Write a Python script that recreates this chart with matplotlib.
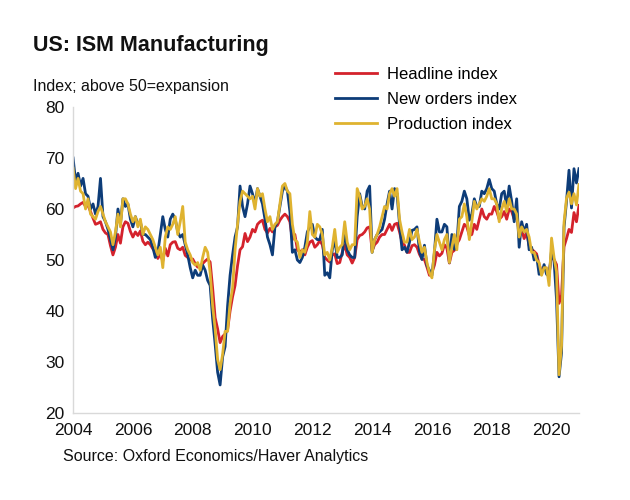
import numpy as np
import matplotlib
matplotlib.use("Agg")
import matplotlib.pyplot as plt

plt.rcParams['font.family'] = ['Liberation Sans', 'DejaVu Sans']

# monthly readings, Jan 2004 .. Dec 2020
headline = [
    60.2, 60.5, 60.6, 61.0, 61.3, 60.5, 60.7, 59.5, 58.2, 57.0, 57.2, 57.5,
    56.0, 55.3, 55.0, 52.8, 51.0, 52.5, 55.0, 53.3, 56.5, 57.5, 57.2, 55.6,
    54.5, 55.5, 54.8, 55.7, 53.7, 53.0, 53.5, 53.0, 52.2, 51.5, 50.3, 51.2,
    49.8, 52.3, 50.8, 53.0, 53.5, 53.6, 52.3, 52.0, 52.5, 50.9, 50.5, 50.0,
    50.2, 49.3, 48.6, 48.8, 49.3, 49.8, 50.2, 49.6, 44.5, 38.7, 36.5, 33.8,
    35.0, 35.5, 36.3, 40.0, 42.8, 45.0, 48.9, 52.0, 52.6, 55.2, 53.6, 54.5,
    56.0, 55.5, 57.0, 57.5, 57.8, 56.0, 55.3, 56.2, 55.5, 56.5, 56.8, 57.8,
    58.5, 59.0, 58.5, 57.5, 54.0, 55.0, 52.0, 51.5, 52.0, 51.0, 52.5, 53.5,
    53.8, 52.5, 53.0, 53.8, 53.0, 50.5, 50.0, 49.6, 51.0, 51.2, 49.3, 49.5,
    51.5, 53.0, 51.0, 50.5, 49.4, 50.5, 54.0, 54.8, 55.0, 55.5, 56.3, 56.5,
    51.8, 53.0, 53.5, 54.5, 55.0, 55.0, 56.0, 57.0, 55.8, 57.0, 57.2, 55.5,
    53.5, 52.9, 51.5, 51.5, 52.8, 53.0, 52.5, 51.1, 50.2, 50.1, 48.6, 47.0,
    47.5, 49.0, 51.5, 50.8, 51.3, 53.0, 52.3, 49.4, 51.5, 51.9, 53.2, 54.0,
    55.5, 57.0, 56.5, 54.8, 55.0, 57.0, 56.0, 58.0, 60.0, 58.5, 58.0, 59.0,
    59.0, 60.5, 59.5, 58.0, 58.5, 59.5, 58.0, 60.0, 59.5, 58.0, 58.8, 55.5,
    56.0, 54.2, 55.3, 52.8, 52.1, 51.7, 51.2, 49.1, 47.8, 48.3, 48.1, 47.2,
    50.9, 50.1, 49.1, 41.5, 43.1, 52.6, 54.2, 56.0, 55.4, 59.3, 57.5, 60.7,
]

new_orders = [
    70.0, 65.5, 67.0, 64.5, 66.0, 63.0, 62.5, 60.0, 61.0, 59.0, 60.5, 66.0,
    58.5, 57.5, 56.0, 54.0, 52.0, 54.5, 60.0, 57.0, 62.0, 60.5, 61.0, 58.0,
    56.5, 58.5, 57.0, 57.5, 55.0, 55.0, 54.5, 54.0, 52.5, 50.5, 51.5, 55.0,
    58.5, 56.0, 54.5, 58.0, 59.0, 58.0, 55.5, 54.5, 55.0, 53.0, 51.0, 48.5,
    46.5, 48.0, 47.0, 47.0, 49.0, 48.0, 46.0, 45.0, 38.5, 33.5, 28.0, 25.5,
    31.0, 33.0, 41.0, 47.0, 51.0, 54.5, 56.5, 64.5, 60.5, 58.5, 61.0, 64.5,
    63.0, 61.0, 64.0, 62.5, 61.0, 58.0, 54.5, 53.0, 51.0, 56.5, 57.5, 60.5,
    63.5, 64.5, 63.5, 59.5, 51.5, 52.0, 50.0, 49.5, 50.5, 52.5, 55.5, 56.5,
    57.0, 54.5, 54.0, 54.0, 56.0, 47.0, 47.5, 46.5, 52.0, 54.0, 50.5, 50.5,
    51.0, 56.0, 52.0, 51.0, 50.5, 50.5, 58.5, 63.0, 60.5, 60.0, 63.5, 64.5,
    51.5, 54.0, 55.0, 55.5, 56.0, 58.0, 61.0, 63.5, 60.0, 64.0, 63.0, 57.0,
    52.0, 52.5, 51.5, 53.5, 55.8, 56.0, 56.5, 51.7, 50.1, 52.9, 48.9, 48.0,
    47.0, 51.5, 58.0, 55.5, 55.5, 57.0, 56.5, 49.5, 55.0, 52.1, 53.0, 60.5,
    61.5, 63.5, 62.0, 57.8, 59.0, 62.0, 60.5, 60.5, 63.5, 63.0, 64.0, 65.8,
    64.0, 63.5, 61.0, 60.0, 63.0, 63.5, 60.5, 64.5, 61.5, 57.5, 62.0, 52.5,
    57.5, 55.5, 57.0, 52.0, 52.5, 50.0, 50.8, 47.2, 47.3, 49.1, 47.2, 46.8,
    52.0, 49.8, 42.2, 27.1, 31.8, 56.4, 61.5, 67.6, 60.2, 67.9, 65.1, 67.9,
]

production = [
    68.0, 64.0, 66.0, 63.5, 63.0, 60.0, 62.0, 59.0, 58.5, 58.0, 59.5, 60.5,
    59.0, 57.5, 56.5, 55.5, 53.0, 55.5, 59.0, 56.5, 62.0, 62.0, 61.0, 59.0,
    57.5, 58.5, 56.5, 58.0, 55.0, 56.5, 56.0, 55.0, 54.0, 52.5, 51.0, 52.5,
    48.5, 54.5, 56.5, 56.0, 57.0, 58.5, 55.0, 57.5, 60.5, 53.5, 52.0, 51.0,
    49.5, 49.0, 49.5, 48.0, 50.5, 52.5, 51.5, 47.5, 41.0, 36.5, 30.5, 28.5,
    31.5, 36.0, 36.0, 41.5, 44.5, 52.0, 57.0, 61.5, 63.5, 63.0, 62.5, 62.0,
    62.5, 60.0, 64.0, 62.5, 63.0, 60.0, 57.5, 58.5, 56.0, 57.0, 57.5, 61.0,
    64.5, 65.0, 63.5, 63.0, 57.0, 54.0, 53.5, 50.5, 52.0, 51.5, 53.5, 59.5,
    55.0, 54.5, 57.0, 56.5, 55.0, 51.0, 51.5, 50.0, 52.5, 56.0, 51.5, 52.5,
    53.0, 57.5, 53.5, 52.0, 53.0, 53.0, 64.0, 62.5, 60.0, 60.5, 62.0, 60.0,
    51.5, 54.0, 55.0, 56.5, 58.5, 60.5, 60.0, 63.0, 64.0, 62.5, 64.0, 58.0,
    55.5, 53.5, 53.5, 56.0, 54.0, 54.5, 56.0, 53.5, 51.5, 52.5, 49.5, 47.5,
    46.5, 52.0, 55.0, 53.5, 52.0, 54.0, 55.0, 49.5, 52.5, 55.0, 52.0, 58.0,
    58.5, 61.0, 58.5, 54.0, 57.5, 61.5, 60.0, 61.0, 62.0, 61.5, 62.5, 64.0,
    62.0, 62.0, 61.0, 57.5, 60.0, 61.5, 59.5, 62.0, 60.0, 60.0, 59.0, 54.5,
    56.5, 55.5, 56.0, 54.5, 51.5, 51.5, 50.0, 49.5, 47.0, 48.5, 48.5, 45.0,
    54.3, 50.5, 47.7, 27.5, 33.2, 57.3, 62.1, 63.3, 61.0, 63.0, 60.8, 64.8,
]

start_year = 2004
year_ticks = [2004, 2006, 2008, 2010, 2012, 2014, 2016, 2018, 2020]
y_ticks = [20, 30, 40, 50, 60, 70, 80]

t = start_year + np.arange(len(headline)) / 12.0

fig = plt.figure(figsize=(6.3, 5), dpi=100)
ax = fig.add_axes([0.116, 0.174, 0.803, 0.612])

ax.plot(t, headline, color='#d4222c', lw=2.0, label='Headline index')
ax.plot(t, new_orders, color='#0d3c78', lw=2.0, label='New orders index')
ax.plot(t, production, color='#dfb330', lw=2.0, label='Production index')

ax.set_xlim(start_year, t[-1])
ax.set_ylim(20, 80)
ax.set_xticks(year_ticks)
ax.set_yticks(y_ticks)
ax.tick_params(length=0, labelsize=12.5, colors='#111111')
ax.tick_params(axis='x', pad=7)
ax.tick_params(axis='y', pad=6)
for s in ['top', 'right']:
    ax.spines[s].set_visible(False)
for s in ['left', 'bottom']:
    ax.spines[s].set_color('#d9d9d9')
    ax.spines[s].set_linewidth(1.0)

fig.text(0.052, 0.91, 'US: ISM Manufacturing', fontsize=15.5, fontweight='bold',
         va='center', ha='left', color='#111111')
fig.text(0.052, 0.828, 'Index; above 50=expansion', fontsize=11.5,
         va='center', ha='left', color='#111111')
fig.text(0.1, 0.086, 'Source: Oxford Economics/Haver Analytics', fontsize=11.5,
         va='center', ha='left', color='#111111')

fig.legend(loc='upper left', bbox_to_anchor=(0.532, 0.866), frameon=False,
           fontsize=12, handlelength=2.5, handletextpad=0.6, labelspacing=0.6,
           borderaxespad=0, borderpad=0)

fig.savefig('out.png', dpi=100)
